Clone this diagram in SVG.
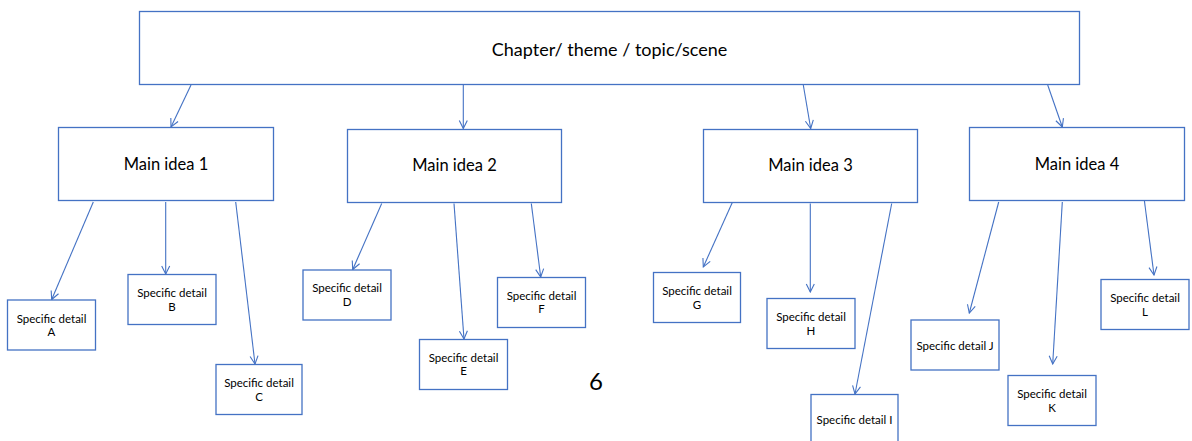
<svg xmlns="http://www.w3.org/2000/svg" width="1192" height="441" viewBox="0 0 1192 441">
<style>
.box{fill:#fff;stroke:#4472C4;stroke-width:1.3}
.t{font-family:Lato,"Open Sans","Liberation Sans",sans-serif;fill:#000;text-anchor:middle}
.big{font-size:18px}
.mid{font-size:16.5px}
.sm{font-size:11.5px}
.c line{stroke:#4472C4;stroke-width:1.1;marker-end:url(#ah)}
</style>
<defs>
<marker id="ah" markerWidth="10" markerHeight="10" viewBox="0 0 10 10" refX="9" refY="5" orient="auto" markerUnits="userSpaceOnUse">
<path d="M1,1 L9,5 L1,9" fill="none" stroke="#4472C4" stroke-width="1.1"/>
</marker>
</defs>
<rect width="1192" height="441" fill="#fff"/>
<g id="connectors" class="c">
<line x1="191" y1="85" x2="171" y2="127"/>
<line x1="463.3" y1="85" x2="463.3" y2="128.5"/>
<line x1="803.3" y1="85" x2="810.7" y2="128.5"/>
<line x1="1047.7" y1="85" x2="1062.3" y2="127"/>
<line x1="93.3" y1="202" x2="51.7" y2="299.5"/>
<line x1="165.7" y1="202" x2="165.7" y2="274"/>
<line x1="235.7" y1="202" x2="255" y2="364"/>
<line x1="381.7" y1="203.5" x2="352.7" y2="269.5"/>
<line x1="454" y1="203.5" x2="464" y2="339"/>
<line x1="531.3" y1="203.5" x2="540.7" y2="277"/>
<line x1="732.3" y1="202.5" x2="703.3" y2="267"/>
<line x1="810.3" y1="203.5" x2="810.3" y2="292"/>
<line x1="891.7" y1="203.5" x2="855" y2="394"/>
<line x1="998.7" y1="202" x2="969.3" y2="313"/>
<line x1="1062.3" y1="202" x2="1052.7" y2="364"/>
<line x1="1144.3" y1="200" x2="1154" y2="275"/>
</g>
<g id="top"><rect class="box" x="139.5" y="11.5" width="940" height="73"/><text class="t big" x="609.5" y="56">Chapter/ theme / topic/scene</text></g>
<g id="main1"><rect class="box" x="58.5" y="127.5" width="215" height="73"/><text class="t mid" x="166" y="169.5">Main idea 1</text></g>
<g id="main2"><rect class="box" x="347.5" y="129.5" width="214" height="73"/><text class="t mid" x="454.5" y="171">Main idea 2</text></g>
<g id="main3"><rect class="box" x="703.5" y="129.5" width="214" height="73"/><text class="t mid" x="810.5" y="171">Main idea 3</text></g>
<g id="main4"><rect class="box" x="969.5" y="127.5" width="215" height="73"/><text class="t mid" x="1077" y="169.5">Main idea 4</text></g>
<g id="detailA"><rect class="box" x="7.5" y="300" width="88" height="50"/><text class="t sm" x="51.5" y="322.5">Specific detail</text><text class="t sm" x="51.5" y="336">A</text></g>
<g id="detailB"><rect class="box" x="128" y="274.5" width="88" height="50"/><text class="t sm" x="172" y="297">Specific detail</text><text class="t sm" x="172" y="310.5">B</text></g>
<g id="detailC"><rect class="box" x="216" y="364.5" width="86" height="50"/><text class="t sm" x="259" y="387">Specific detail</text><text class="t sm" x="259" y="400.5">C</text></g>
<g id="detailD"><rect class="box" x="303" y="270" width="88" height="50"/><text class="t sm" x="347" y="292">Specific detail</text><text class="t sm" x="347" y="305.5">D</text></g>
<g id="detailE"><rect class="box" x="419.5" y="339.5" width="88" height="50"/><text class="t sm" x="463.5" y="361.5">Specific detail</text><text class="t sm" x="463.5" y="375">E</text></g>
<g id="detailF"><rect class="box" x="497.5" y="277.5" width="88" height="50"/><text class="t sm" x="541.5" y="299.5">Specific detail</text><text class="t sm" x="541.5" y="313">F</text></g>
<g id="detailG"><rect class="box" x="653.5" y="272.5" width="87" height="50"/><text class="t sm" x="697" y="295">Specific detail</text><text class="t sm" x="697" y="308.5">G</text></g>
<g id="detailH"><rect class="box" x="767" y="298.5" width="88" height="50"/><text class="t sm" x="811" y="321">Specific detail</text><text class="t sm" x="811" y="334.5">H</text></g>
<g id="detailI"><rect class="box" x="811" y="394.5" width="87" height="60"/><text class="t sm" x="854.5" y="423.5">Specific detail I</text></g>
<g id="detailJ"><rect class="box" x="911" y="320" width="88" height="50"/><text class="t sm" x="955" y="349.5">Specific detail J</text></g>
<g id="detailK"><rect class="box" x="1008" y="375.5" width="88" height="50"/><text class="t sm" x="1052" y="397.5">Specific detail</text><text class="t sm" x="1052" y="411.5">K</text></g>
<g id="detailL"><rect class="box" x="1101" y="279.5" width="88" height="50"/><text class="t sm" x="1145" y="302">Specific detail</text><text class="t sm" x="1145" y="315.5">L</text></g>
<g id="page"><text class="t" style="font-size:24px" x="596" y="389.5">6</text></g>
</svg>
